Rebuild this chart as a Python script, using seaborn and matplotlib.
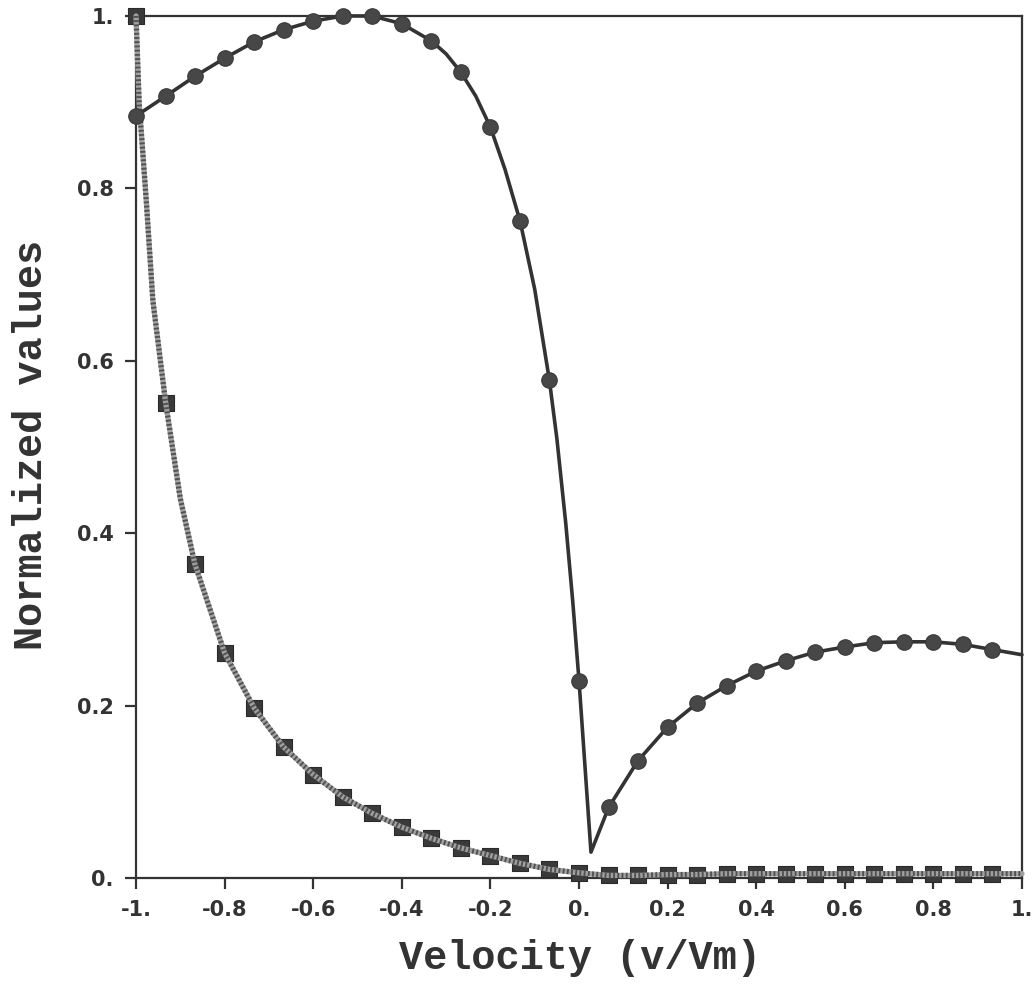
import matplotlib
matplotlib.use("Agg")
import matplotlib.pyplot as plt
import seaborn as sns
import pandas as pd

# ---- data ----
marker_x = [-1.0, -0.933, -0.867, -0.8, -0.733, -0.667, -0.6, -0.533, -0.467, -0.4,
            -0.333, -0.267, -0.2, -0.133, -0.067, 0.0, 0.067, 0.133, 0.2, 0.267,
            0.333, 0.4, 0.467, 0.533, 0.6, 0.667, 0.733, 0.8, 0.867, 0.933]

circle_y = [0.884, 0.907, 0.930, 0.951, 0.970, 0.984, 0.994, 1.0, 1.0, 0.991,
            0.971, 0.935, 0.871, 0.762, 0.578, 0.229, 0.082, 0.136, 0.175, 0.203,
            0.223, 0.240, 0.252, 0.262, 0.268, 0.273, 0.274, 0.274, 0.271, 0.265]

square_y = [1.0, 0.551, 0.364, 0.261, 0.197, 0.152, 0.120, 0.094, 0.075, 0.059,
            0.046, 0.035, 0.026, 0.017, 0.010, 0.006, 0.003, 0.003, 0.004, 0.004,
            0.005, 0.005, 0.005, 0.005, 0.005, 0.005, 0.005, 0.005, 0.005, 0.005]

# smooth curve traces (marker points plus extra points read between them)
circle_curve_x = [-1.0, -0.933, -0.867, -0.8, -0.733, -0.667, -0.6, -0.533, -0.5, -0.467, -0.4,
                  -0.333, -0.3, -0.267, -0.233, -0.2, -0.167, -0.133, -0.1, -0.067, -0.05,
                  -0.03, -0.014, 0.0, 0.027, 0.067, 0.133, 0.2, 0.267, 0.333, 0.4, 0.467,
                  0.533, 0.6, 0.667, 0.733, 0.8, 0.867, 0.933, 1.0]
circle_curve_y = [0.884, 0.907, 0.930, 0.951, 0.970, 0.984, 0.994, 1.0, 1.0, 1.0, 0.991,
                  0.971, 0.956, 0.935, 0.907, 0.871, 0.822, 0.762, 0.683, 0.578, 0.510,
                  0.412, 0.320, 0.229, 0.030, 0.082, 0.136, 0.175, 0.203, 0.223, 0.240, 0.252,
                  0.262, 0.268, 0.273, 0.274, 0.274, 0.271, 0.265, 0.259]

square_curve_x = [-1.0, -0.993, -0.977, -0.962, -0.933, -0.9, -0.867, -0.8, -0.733, -0.667,
                  -0.6, -0.533, -0.467, -0.4, -0.333, -0.267, -0.2, -0.133, -0.067, 0.0,
                  0.067, 0.133, 0.2, 0.267, 0.333, 0.4, 0.467, 0.533, 0.6, 0.667,
                  0.733, 0.8, 0.867, 0.933, 1.0]
square_curve_y = [1.0, 0.90, 0.787, 0.67, 0.551, 0.44, 0.364, 0.261, 0.197, 0.152,
                  0.120, 0.094, 0.075, 0.059, 0.046, 0.035, 0.026, 0.017, 0.010, 0.006,
                  0.003, 0.003, 0.004, 0.004, 0.005, 0.005, 0.005, 0.005, 0.005, 0.005,
                  0.005, 0.005, 0.005, 0.005, 0.005]

x_ticks = [-1.0, -0.8, -0.6, -0.4, -0.2, 0.0, 0.2, 0.4, 0.6, 0.8, 1.0]
x_tick_labels = ["-1.", "-0.8", "-0.6", "-0.4", "-0.2", "0.", "0.2", "0.4", "0.6", "0.8", "1."]
y_ticks = [0.0, 0.2, 0.4, 0.6, 0.8, 1.0]
y_tick_labels = ["0.", "0.2", "0.4", "0.6", "0.8", "1."]

x_label = "Velocity (v/Vm)"
y_label = "Normalized values"

# ---- plotting ----
sns.set_style("white")
plt.rcParams["font.family"] = ["DejaVu Sans"]

fig = plt.figure(figsize=(10.32, 9.92), dpi=100)
ax = fig.add_axes([0.1318, 0.1149, 0.8585, 0.8690])

circ_curve = pd.DataFrame({"x": circle_curve_x, "y": circle_curve_y})
sq_curve = pd.DataFrame({"x": square_curve_x, "y": square_curve_y})
marks = pd.DataFrame({"x": marker_x, "c": circle_y, "s": square_y})

# square series: gray textured line over dark square markers
sns.scatterplot(data=marks, x="x", y="s", marker="s", s=125, color="#3a3a3a",
                edgecolor="#2a2a2a", linewidth=0.8, ax=ax, zorder=3, clip_on=False)
sns.lineplot(data=sq_curve, x="x", y="y", sort=False, estimator=None, color="#a0a0a0",
             linewidth=3.8, ax=ax, zorder=4, clip_on=False)
l2 = sns.lineplot(data=sq_curve, x="x", y="y", sort=False, estimator=None, color="#505050",
                  linewidth=3.8, ax=ax, zorder=4, clip_on=False)
l2.lines[-1].set_linestyle((0, (0.35, 0.45)))

# circle series: solid dark line with circle markers
sns.lineplot(data=circ_curve, x="x", y="y", sort=False, estimator=None, color="#333333",
             linewidth=2.6, ax=ax, zorder=5, clip_on=False)
sns.scatterplot(data=marks, x="x", y="c", marker="o", s=125, color="#474747",
                edgecolor="#3a3a3a", linewidth=0.8, ax=ax, zorder=6, clip_on=False)

ax.set_xlim(-1.0, 1.0)
ax.set_ylim(0.0, 1.0)
ax.set_xticks(x_ticks)
ax.set_xticklabels(x_tick_labels, fontsize=15, fontweight="bold", color="#333333")
ax.set_yticks(y_ticks)
ax.set_yticklabels(y_tick_labels, fontsize=15, fontweight="bold", color="#333333")
ax.tick_params(axis="both", direction="out", length=8, width=1.6, color="#333333",
               bottom=True, left=True, pad=8)

for sp in ax.spines.values():
    sp.set_visible(True)
    sp.set_linewidth(1.6)
    sp.set_color("#333333")

ax.set_xlabel("")
ax.set_ylabel("")
ax.grid(False)

label_font = ["Liberation Mono", "DejaVu Sans Mono"]
fig.text(0.562, 0.034, x_label, ha="center", va="center", fontsize=29, fontweight="bold",
         family=label_font, color="#333333")
fig.text(0.030, 0.551, y_label, ha="center", va="center", rotation=90, fontsize=29,
         fontweight="bold", family=label_font, color="#333333")

fig.savefig("out.png", dpi=100)
